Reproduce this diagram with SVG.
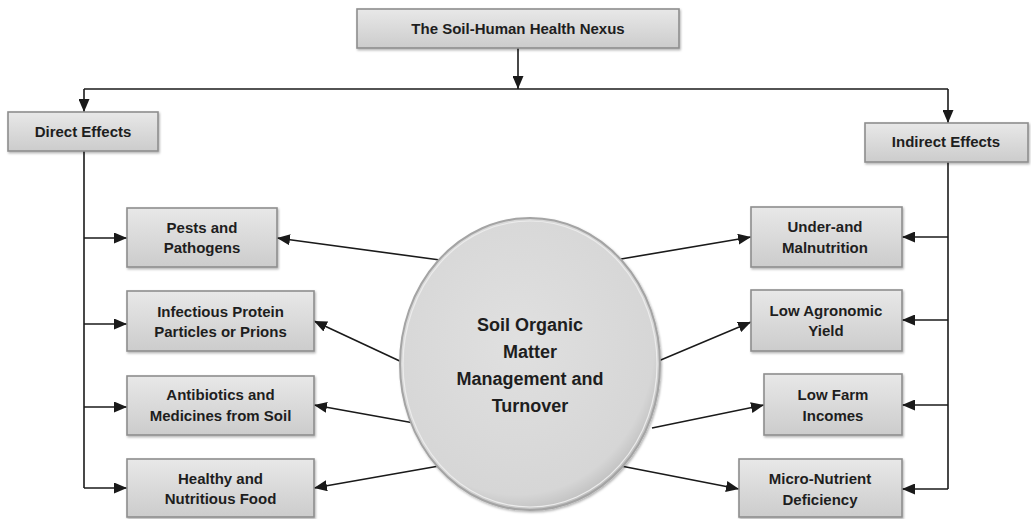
<svg xmlns="http://www.w3.org/2000/svg" width="1031" height="519" viewBox="0 0 1031 519">
<style>
.box{fill:url(#boxg);stroke:#8e8e8e;stroke-width:1.6;filter:url(#sh)}
.t{font-family:"Liberation Sans",Arial,sans-serif;font-weight:bold;font-size:15px;fill:#1e1e1e;text-anchor:middle}
.et{font-family:"Liberation Sans",Arial,sans-serif;font-weight:bold;font-size:18px;fill:#1e1e1e;text-anchor:middle}
.c{fill:none;stroke:#1a1a1a;stroke-width:1.6}
.a{marker-end:url(#ah)}
</style>
<defs>
<linearGradient id="boxg" x1="0" y1="0" x2="0" y2="1">
<stop offset="0" stop-color="#e8e8e8"/>
<stop offset="0.5" stop-color="#dadada"/>
<stop offset="1" stop-color="#cccccc"/>
</linearGradient>
<radialGradient id="ellg" cx="0.45" cy="0.42" r="0.6">
<stop offset="0" stop-color="#e0e0e0"/>
<stop offset="0.88" stop-color="#d6d6d6"/>
<stop offset="1" stop-color="#bdbdbd"/>
</radialGradient>
<filter id="sh" x="-10%" y="-20%" width="120%" height="150%">
<feDropShadow dx="1" dy="1.5" stdDeviation="1.2" flood-color="#000" flood-opacity="0.3"/>
</filter>
<marker id="ah" markerUnits="userSpaceOnUse" markerWidth="13" markerHeight="11" refX="13" refY="5.5" orient="auto">
<path d="M0,0 L13,5.5 L0,11 z" fill="#1a1a1a"/>
</marker>
</defs>

<g id="connectors">
<path class="c a" d="M518,48 V89"/>
<path class="c" d="M84,89 H948"/>
<path class="c a" d="M84,89 V112"/>
<path class="c a" d="M948,89 V123"/>
<path class="c" d="M84,151 V488"/>
<path class="c a" d="M84,238 H127"/>
<path class="c a" d="M84,324 H127"/>
<path class="c a" d="M84,407 H127"/>
<path class="c a" d="M84,488 H127"/>
<path class="c" d="M948,162 V489"/>
<path class="c a" d="M948,237 H902"/>
<path class="c a" d="M948,320 H902"/>
<path class="c a" d="M948,405 H902"/>
<path class="c a" d="M948,489 H902"/>
<path class="c a" d="M440,260 L277,238"/>
<path class="c a" d="M404,363 L314,321"/>
<path class="c a" d="M414,423 L314,405"/>
<path class="c a" d="M439,466 L314,488"/>
<path class="c a" d="M621,259 L751,237"/>
<path class="c a" d="M656,362 L751,322"/>
<path class="c a" d="M652,428 L764,405"/>
<path class="c a" d="M621,466 L739,489"/>
</g>

<g id="center">
<ellipse cx="530" cy="364" rx="130" ry="146" fill="url(#ellg)" stroke="#a4a4a4" stroke-width="2" filter="url(#sh)"/>
<ellipse cx="530" cy="364" rx="127" ry="143" fill="none" stroke="#ececec" stroke-width="1.2"/>
<text class="et" x="530" y="331">Soil Organic</text>
<text class="et" x="530" y="358">Matter</text>
<text class="et" x="530" y="385">Management and</text>
<text class="et" x="530" y="412">Turnover</text>
</g>

<g id="nexus"><rect class="box" x="357" y="9" width="322" height="39"/><text class="t" x="518" y="34">The Soil-Human Health Nexus</text></g>
<g id="direct"><rect class="box" x="8" y="112" width="150" height="39"/><text class="t" x="83" y="137">Direct Effects</text></g>
<g id="indirect"><rect class="box" x="865" y="123" width="163" height="39"/><text class="t" x="946" y="147">Indirect Effects</text></g>

<g id="pests"><rect class="box" x="127" y="208" width="150" height="59"/><text class="t" x="202" y="233">Pests and</text><text class="t" x="202" y="253">Pathogens</text></g>
<g id="prions"><rect class="box" x="127" y="291" width="187" height="60"/><text class="t" x="220.5" y="317">Infectious Protein</text><text class="t" x="220.5" y="337">Particles or Prions</text></g>
<g id="antibiotics"><rect class="box" x="127" y="376" width="187" height="59"/><text class="t" x="220.5" y="400">Antibiotics and</text><text class="t" x="220.5" y="421">Medicines from Soil</text></g>
<g id="food"><rect class="box" x="127" y="459" width="187" height="58"/><text class="t" x="220.5" y="484">Healthy and</text><text class="t" x="220.5" y="504">Nutritious Food</text></g>

<g id="malnutrition"><rect class="box" x="751" y="207" width="151" height="60"/><text class="t" x="825" y="232">Under-and</text><text class="t" x="825" y="253">Malnutrition</text></g>
<g id="yield"><rect class="box" x="751" y="290" width="151" height="61"/><text class="t" x="826" y="316">Low Agronomic</text><text class="t" x="826" y="336">Yield</text></g>
<g id="incomes"><rect class="box" x="764" y="374" width="138" height="61"/><text class="t" x="833" y="400">Low Farm</text><text class="t" x="833" y="421">Incomes</text></g>
<g id="micro"><rect class="box" x="739" y="459" width="163" height="58"/><text class="t" x="820" y="484">Micro-Nutrient</text><text class="t" x="820" y="505">Deficiency</text></g>
</svg>
